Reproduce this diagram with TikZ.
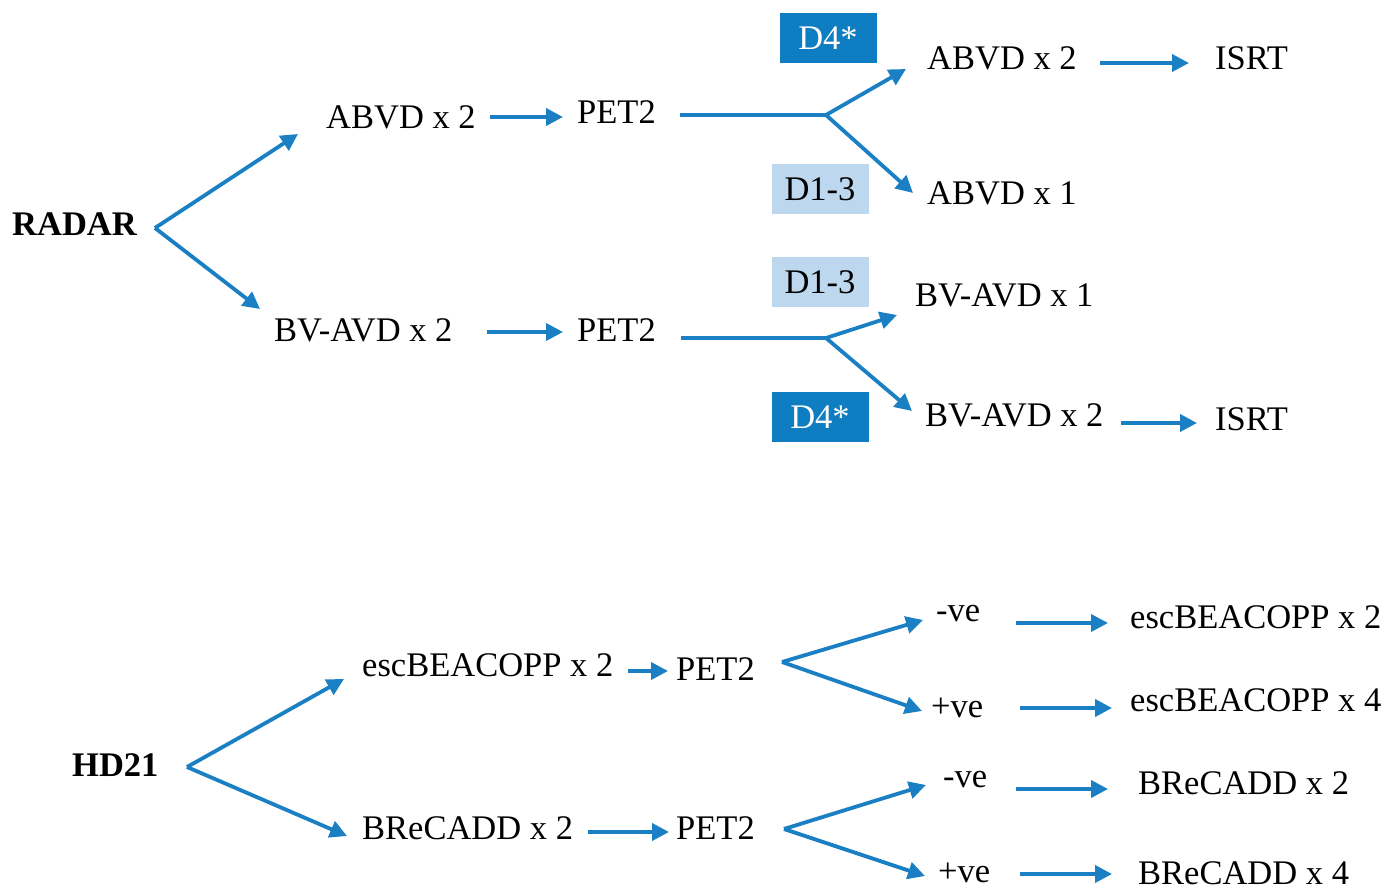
\documentclass[tikz,border=0pt]{standalone}
\usepackage{fontspec}
\setmainfont{Liberation Serif}
\usetikzlibrary{arrows.meta}
\definecolor{flow}{HTML}{1A7FC3}
\definecolor{darkbox}{HTML}{0F7DC2}
\definecolor{lightbox}{HTML}{BDD7EE}
\tikzset{
  lbl/.style={anchor=west, inner sep=0pt, font=\fontsize{34.5}{40}\selectfont},
  head/.style={lbl, font=\fontsize{34.5}{40}\selectfont\bfseries},
  arr/.style={draw=flow, line width=3.8pt, line join=miter,
    -{Triangle[length=17pt,width=17pt]}},
  plain/.style={draw=flow, line width=3.8pt, line join=miter},
  stagebox/.style={minimum width=97pt, minimum height=50pt, inner sep=0pt,
    font=\fontsize{34.5}{40}\selectfont},
  dbox/.style={stagebox, fill=darkbox, text=white},
  lbox/.style={stagebox, fill=lightbox, text=black},
}
\begin{document}
\begin{tikzpicture}[x=1pt,y=-1pt]
\useasboundingbox (0,0) rectangle (1398,890);

% ---------------- RADAR ----------------
\node[head] (radar) at (12,224) {RADAR};
\node[lbl] (ra1) at (326,117) {ABVD x 2};
\node[lbl] (rp1) at (577,112) {PET2};
\node[lbl] (ra2) at (927,58) {ABVD x 2};
\node[lbl] (ri1) at (1215,58) {ISRT};
\node[lbl] (ra3) at (927,193) {ABVD x 1};
\node[dbox] (rd4a) at (828,38) {D4*};
\node[lbox] (rd13a) at (820,189) {D1-3};

\node[lbl] (rb1) at (274,330) {BV-AVD x 2};
\node[lbl] (rp2) at (577,330) {PET2};
\node[lbl] (rb2) at (915,295) {BV-AVD x 1};
\node[lbl] (rb3) at (925,415) {BV-AVD x 2};
\node[lbl] (ri2) at (1215,419) {ISRT};
\node[lbox] (rd13b) at (820,282) {D1-3};
\node[dbox] (rd4b) at (820,417) {D4*};

\coordinate (rj0) at (155,228);
\coordinate (rt1) at (298,134);
\coordinate (rt2) at (260,309);
\draw[arr] (rj0) -- (rt1);
\draw[arr] (rj0) -- (rt2);

\draw[arr] ([xshift=14pt]ra1.east) -- ([xshift=-14pt]ra1.east -| rp1.west);
\coordinate (rs1) at (680,115);
\coordinate (rj1) at (826,115);
\draw[plain] (rs1) -- (rj1);
\draw[arr] (rj1) -- (906,69);
\draw[arr] (rj1) -- (913,193);
\draw[arr] (1100,63) -- ([xshift=-26pt]ri1.west |- 0,63);

\draw[arr] (487,332) -- ([xshift=-14pt]rp2.west |- 0,332);
\coordinate (rs2) at (681,338);
\coordinate (rj2) at (826,338);
\draw[plain] (rs2) -- (rj2);
\draw[arr] (rj2) -- (897,315);
\draw[arr] (rj2) -- (912,411);
\draw[arr] (1121,423) -- ([xshift=-18pt]ri2.west |- 0,423);

% ---------------- HD21 ----------------
\node[head] (hd) at (72,765) {HD21};
\node[lbl] (he1) at (362,665) {escBEACOPP x 2};
\node[lbl] (hp1) at (676,669) {PET2};
\node[lbl] (hn1) at (936,614) {-ve};
\node[lbl] (hq1) at (931,708) {+ve};
\node[lbl] (he2) at (1130,617) {escBEACOPP x 2};
\node[lbl] (he4) at (1130,700) {escBEACOPP x 4};

\node[lbl] (hb1) at (362,828) {BReCADD x 2};
\node[lbl] (hp2) at (676,828) {PET2};
\node[lbl] (hn2) at (943,780) {-ve};
\node[lbl] (hq2) at (938,873) {+ve};
\node[lbl] (hb2) at (1138,783) {BReCADD x 2};
\node[lbl] (hb4) at (1138,873) {BReCADD x 4};

\coordinate (hj0) at (187,767);
\draw[arr] (hj0) -- (344,679);
\draw[arr] (hj0) -- (347,836);

\draw[arr] (628,671) -- (668,671);
\coordinate (hj1) at (782,662);
\draw[arr] (hj1) -- (923,620);
\draw[arr] (hj1) -- (922,711);
\draw[arr] (1016,623) -- (1108,623);
\draw[arr] (1020,708) -- (1112,708);

\draw[arr] (588,832) -- (669,832);
\coordinate (hj2) at (784,829);
\draw[arr] (hj2) -- (926,785);
\draw[arr] (hj2) -- (925,876);
\draw[arr] (1016,789) -- (1108,789);
\draw[arr] (1020,874) -- (1112,874);
\end{tikzpicture}
\end{document}
